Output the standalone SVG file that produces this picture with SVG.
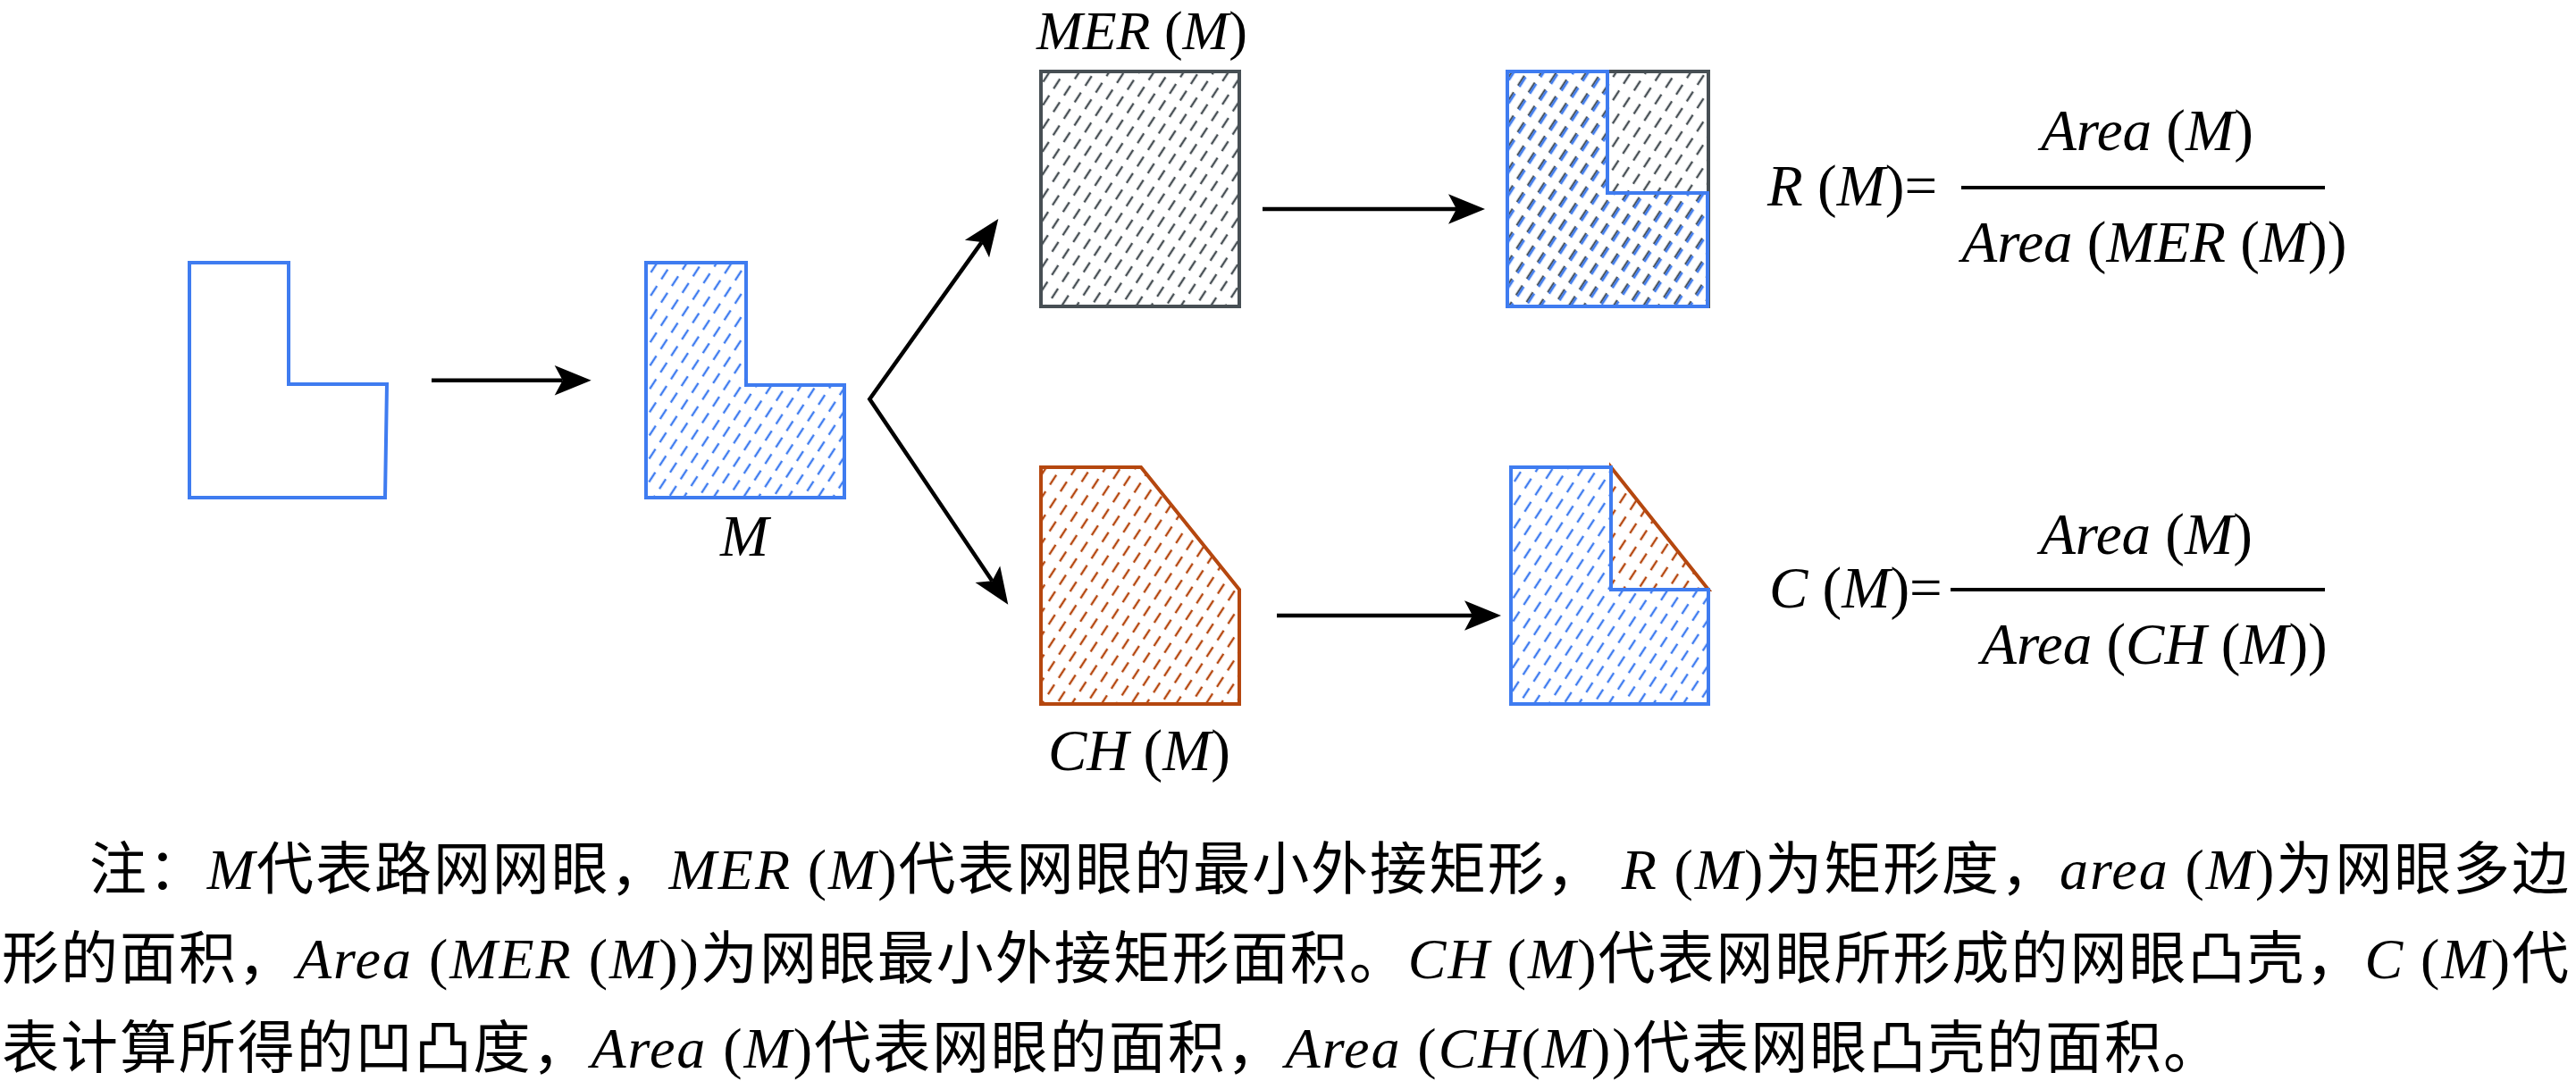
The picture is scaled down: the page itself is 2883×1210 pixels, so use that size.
<svg xmlns="http://www.w3.org/2000/svg" width="2883" height="1210" viewBox="0 0 2883 1210">
  <style>
    .blue { fill: none; stroke: #3f7cf0; stroke-width: 4; stroke-linejoin: miter; }
    .gray { fill: none; stroke: #474f54; stroke-width: 4; }
    .orange { fill: none; stroke: #b5470f; stroke-width: 4; stroke-linejoin: miter; }
    .conn { fill: none; stroke: #000; stroke-width: 4.5; stroke-linejoin: miter; }
    .math { font-family: "Liberation Serif", "Times New Roman", serif; font-style: italic; font-size: 65px; fill: #000; }
    .up { font-style: normal; }
    .note { font-family: "Liberation Serif", "Noto Sans CJK SC", serif; font-size: 64px; fill: #000; }
    .it { font-style: italic; }
    .bar { stroke: #000; stroke-width: 4; }
  </style>
  <defs>
    <pattern id="hatch-blue" patternUnits="userSpaceOnUse" width="14" height="22" patternTransform="rotate(33)">
      <line x1="7" y1="0" x2="7" y2="13" stroke="#3f7cf0" stroke-width="2.4"/>
    </pattern>
    <pattern id="hatch-blue2" patternUnits="userSpaceOnUse" width="14" height="22" patternTransform="translate(1.5,1.5) rotate(33)">
      <line x1="7" y1="0" x2="7" y2="13" stroke="#3f7cf0" stroke-width="2.6"/>
    </pattern>
    <pattern id="hatch-gray" patternUnits="userSpaceOnUse" width="14" height="22" patternTransform="rotate(33)">
      <line x1="7" y1="0" x2="7" y2="13" stroke="#474f54" stroke-width="2.4"/>
    </pattern>
    <pattern id="hatch-orange" patternUnits="userSpaceOnUse" width="14" height="22" patternTransform="rotate(33)">
      <line x1="7" y1="0" x2="7" y2="13" stroke="#b5470f" stroke-width="2.4"/>
    </pattern>
    <marker id="arrow" markerUnits="userSpaceOnUse" markerWidth="60" markerHeight="60" refX="0" refY="0" orient="auto-start-reverse" overflow="visible">
      <path d="M32,0 L-9,-16.7 L0,0 L-9,16.7 Z" fill="#000"/>
    </marker>
  </defs>

  <g id="polygon-raw">
    <polygon class="blue" points="212,294 323,294 323,430 433,430 431,557 212,557"/>
  </g>

  <g id="mesh-M">
    <polygon class="blue" style="fill:url(#hatch-blue)" points="723,294 835,294 835,431 945,431 945,557 723,557"/>
    <text class="math" x="833" y="622" text-anchor="middle">M</text>
  </g>

  <g id="mer">
    <rect class="gray" style="fill:url(#hatch-gray)" x="1165" y="80" width="222" height="263"/>
    <text class="math" x="1160" y="55" style="font-size:62px">MER <tspan class="up">(</tspan>M<tspan class="up">)</tspan></text>
  </g>

  <g id="convex-hull">
    <polygon class="orange" style="fill:url(#hatch-orange)" points="1165,523 1277,523 1387,660 1387,788 1165,788"/>
    <text class="math" x="1173" y="862">CH <tspan class="up">(</tspan>M<tspan class="up">)</tspan></text>
  </g>

  <g id="overlay-mer">
    <rect class="gray" style="fill:url(#hatch-gray)" x="1687" y="80" width="225" height="263"/>
    <polygon class="blue" style="fill:url(#hatch-blue2)" points="1687,80 1799,80 1799,216 1911,216 1911,343 1687,343"/>
  </g>

  <g id="overlay-ch">
    <polygon class="orange" style="fill:url(#hatch-orange)" points="1803,523 1912,660 1803,660"/>
    <polygon class="blue" style="fill:url(#hatch-blue)" points="1691,523 1803,523 1803,660 1912,660 1912,788 1691,788"/>
  </g>

  <g id="formula-R">
    <text class="math" x="1978" y="230">R <tspan class="up">(</tspan>M<tspan class="up">)=</tspan></text>
    <line class="bar" x1="2195" y1="210" x2="2602" y2="210"/>
    <text class="math" x="2403" y="168" text-anchor="middle">Area <tspan class="up">(</tspan>M<tspan class="up">)</tspan></text>
    <text class="math" x="2411" y="293" text-anchor="middle">Area <tspan class="up">(</tspan>MER <tspan class="up">(</tspan>M<tspan class="up">))</tspan></text>
  </g>

  <g id="formula-C">
    <text class="math" x="1980" y="680">C <tspan class="up">(</tspan>M<tspan class="up">)=</tspan></text>
    <line class="bar" x1="2183" y1="660" x2="2602" y2="660"/>
    <text class="math" x="2402" y="620" text-anchor="middle">Area <tspan class="up">(</tspan>M<tspan class="up">)</tspan></text>
    <text class="math" x="2411" y="743" text-anchor="middle">Area <tspan class="up">(</tspan>CH <tspan class="up">(</tspan>M<tspan class="up">))</tspan></text>
  </g>

  <g id="connectors">
    <path class="conn" d="M483,425.7 L629.7,425.7" marker-end="url(#arrow)"/>
    <path class="conn" d="M1098.7,271.1 L973.3,446.7 L1110.4,650.2" marker-start="url(#arrow)" marker-end="url(#arrow)"/>
    <path class="conn" d="M1413,234 L1630,234" marker-end="url(#arrow)"/>
    <path class="conn" d="M1429,689 L1648,689" marker-end="url(#arrow)"/>
  </g>

  <g id="note">
    <text class="note" x="100" y="995" textLength="2775" lengthAdjust="spacing">注：<tspan class="it">M</tspan>代表路网网眼，<tspan class="it">MER</tspan> (<tspan class="it">M</tspan>)代表网眼的最小外接矩形， <tspan class="it">R</tspan> (<tspan class="it">M</tspan>)为矩形度，<tspan class="it">area</tspan> (<tspan class="it">M</tspan>)为网眼多边</text>
    <text class="note" x="2" y="1095" textLength="2873" lengthAdjust="spacing">形的面积，<tspan class="it">Area</tspan> (<tspan class="it">MER</tspan> (<tspan class="it">M</tspan>))为网眼最小外接矩形面积。<tspan class="it">CH</tspan> (<tspan class="it">M</tspan>)代表网眼所形成的网眼凸壳，<tspan class="it">C</tspan> (<tspan class="it">M</tspan>)代</text>
    <text class="note" x="2" y="1195" textLength="2483" lengthAdjust="spacing">表计算所得的凹凸度，<tspan class="it">Area</tspan> (<tspan class="it">M</tspan>)代表网眼的面积，<tspan class="it">Area</tspan> (<tspan class="it">CH</tspan>(<tspan class="it">M</tspan>))代表网眼凸壳的面积。</text>
  </g>
</svg>
